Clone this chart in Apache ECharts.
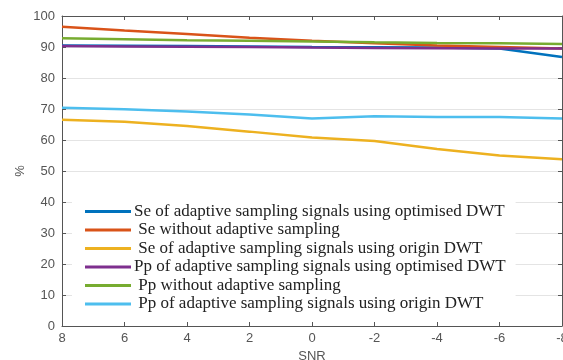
<!DOCTYPE html>
<html><head><meta charset="utf-8">
<script src="https://cdn.jsdelivr.net/npm/echarts@6/dist/echarts.min.js"></script>
<style>html,body{margin:0;padding:0;background:#fff}#c{width:563px;height:360px}</style>
</head><body><div id="c"></div>
<script>
const snr = [8, 6, 4, 2, 0, -2, -4, -6, -8];
const seOptDWT   = [90.5, 90.4, 90.3, 90.2, 90.0, 89.9, 89.8, 89.5, 86.8];
const seNoAdapt  = [96.5, 95.3, 94.2, 93.0, 92.0, 91.2, 90.5, 90.0, 89.5];
const seOrigDWT  = [66.5, 65.9, 64.5, 62.7, 60.8, 59.7, 57.1, 55.0, 53.8];
const ppOptDWT   = [90.3, 90.2, 90.1, 90.0, 89.8, 89.7, 89.6, 89.5, 89.5];
const ppNoAdapt  = [92.8, 92.5, 92.2, 92.0, 91.8, 91.5, 91.3, 91.2, 91.0];
const ppOrigDWT  = [70.4, 69.9, 69.2, 68.2, 66.9, 67.7, 67.4, 67.4, 66.9];
const names = [
  'Se of adaptive sampling signals using optimised DWT',
  ' Se without adaptive sampling',
  ' Se of adaptive sampling signals using origin DWT',
  'Pp of adaptive sampling signals using optimised DWT',
  ' Pp without adaptive sampling',
  ' Pp of adaptive sampling signals using origin DWT'
];
const colors = ['#0072BD', '#D95319', '#EDB120', '#7E2F8E', '#77AC30', '#4DBEEE'];
const allData = [seOptDWT, seNoAdapt, seOrigDWT, ppOptDWT, ppNoAdapt, ppOrigDWT];

const axisLbl = {color: '#555', fontFamily: 'Liberation Sans', fontSize: 13};
const axLine = {show: true, onZero: false, lineStyle: {color: '#555', width: 1}};
const tick = {show: true, inside: true, length: 4, lineStyle: {color: '#555'}};
const chart = echarts.init(document.getElementById('c'));
chart.setOption({
  animation: false,
  color: colors,
  grid: {left: 62, right: 1, top: 16, bottom: 34, containLabel: false, outerBoundsMode: 'none'},
  legend: {
    orient: 'vertical', left: 72, top: 200,
    padding: [3, 10, 3, 13],
    backgroundColor: '#fff',
    icon: 'rect', itemWidth: 46, itemHeight: 3, itemGap: 1.5,
    textStyle: {fontFamily: 'Liberation Serif', fontSize: 17, color: '#222', lineHeight: 15.5, padding: [0,0,0,-2]},
    data: names
  },
  xAxis: [{
    type: 'value', inverse: true, min: -8, max: 8, interval: 2,
    name: 'SNR', nameLocation: 'middle', nameGap: 22,
    nameTextStyle: {color: '#555', fontFamily: 'Liberation Sans', fontSize: 13},
    axisLine: axLine, axisTick: tick,
    axisLabel: Object.assign({margin: 6}, axisLbl),
    splitLine: {show: false}
  }, {
    type: 'value', inverse: true, min: -8, max: 8, interval: 2, position: 'top',
    axisLine: axLine, axisTick: tick,
    axisLabel: {show: false}, splitLine: {show: false}
  }],
  yAxis: [{
    type: 'value', min: 0, max: 100, interval: 10,
    name: '%', nameLocation: 'middle', nameGap: 35, nameRotate: 90, nameMoveOverlap: false,
    nameTextStyle: {color: '#555', fontFamily: 'Liberation Sans', fontSize: 13},
    axisLine: axLine, axisTick: tick,
    axisLabel: Object.assign({margin: 7}, axisLbl),
    splitLine: {show: true, lineStyle: {color: '#e4e4e4', width: 1}}
  }, {
    type: 'value', min: 0, max: 100, interval: 10, position: 'right',
    axisLine: axLine, axisTick: tick,
    axisLabel: {show: false}, splitLine: {show: false}
  }],
  series: allData.map((d, i) => ({
    name: names[i], type: 'line', symbol: 'none',
    lineStyle: {width: 2.5, color: colors[i]},
    itemStyle: {color: colors[i]},
    data: snr.map((x, j) => [x, d[j]])
  }))
});
</script></body></html>
